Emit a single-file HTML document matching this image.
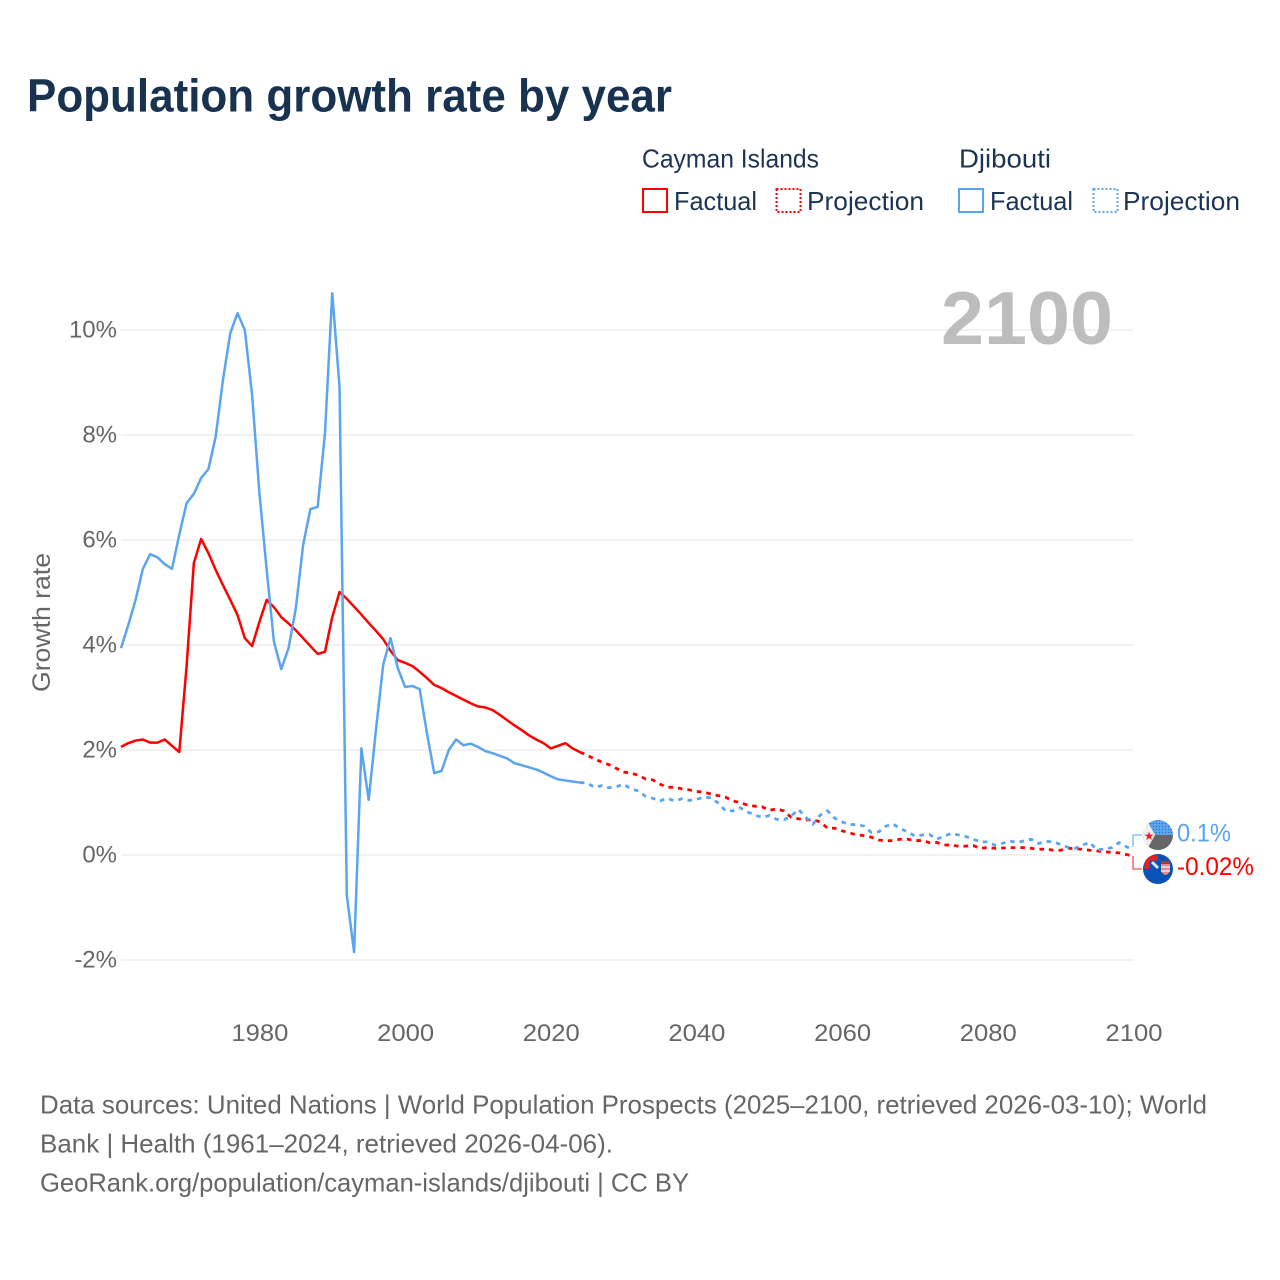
<!DOCTYPE html>
<html lang="en">
<head>
<meta charset="utf-8">
<title>Population growth rate by year</title>
<style>
html,body{margin:0;padding:0;background:#fff;}
svg{display:block;font-family:"Liberation Sans",sans-serif;}
</style>
</head>
<body>
<svg id="chart" xmlns="http://www.w3.org/2000/svg" width="1280" height="1280" viewBox="0 0 1280 1280">
  <rect x="0" y="0" width="1280" height="1280" fill="#ffffff"/>
  <text x="27" y="111.500" font-size="46" font-weight="bold" fill="#18324f" textLength="645" lengthAdjust="spacingAndGlyphs">Population growth rate by year</text>

  <g font-size="26" fill="#1c3454">
    <text x="642" y="167.500" textLength="177" lengthAdjust="spacingAndGlyphs">Cayman Islands</text>
    <text x="959" y="167.500" textLength="92" lengthAdjust="spacingAndGlyphs">Djibouti</text>
    <rect x="643" y="189" width="24" height="23" fill="none" stroke="#ff0000" stroke-width="2"/>
    <text x="674" y="210" textLength="83" lengthAdjust="spacingAndGlyphs">Factual</text>
    <rect x="776.500" y="189" width="24" height="23" fill="none" stroke="#ff0000" stroke-width="2" stroke-dasharray="2 2"/>
    <text x="807" y="210" textLength="117" lengthAdjust="spacingAndGlyphs">Projection</text>
    <rect x="959" y="189" width="24" height="23" fill="none" stroke="#5ba4ef" stroke-width="2"/>
    <text x="990" y="210" textLength="83" lengthAdjust="spacingAndGlyphs">Factual</text>
    <rect x="1093.500" y="189" width="24" height="23" fill="none" stroke="#5ba4ef" stroke-width="2" stroke-dasharray="2 2"/>
    <text x="1123" y="210" textLength="117" lengthAdjust="spacingAndGlyphs">Projection</text>
  </g>

  <text transform="translate(50,622.5) rotate(-90)" text-anchor="middle" font-size="25" fill="#666666" textLength="139" lengthAdjust="spacingAndGlyphs">Growth rate</text>

  <g id="grid"></g>
  <g id="yticks"></g>
  <g id="xticks"></g>

  <text x="941" y="344" font-size="75" font-weight="bold" fill="#bdbdbd" textLength="172" lengthAdjust="spacingAndGlyphs">2100</text>

  <g id="series"></g>

  <path d="M1142 835H1133V847" fill="none" stroke="#5ba4ef" stroke-width="1.300" opacity="0.800"/>
  <path d="M1133 856V869H1142" fill="none" stroke="#ff0000" stroke-width="1.300" opacity="0.700"/>

  <defs>
    <clipPath id="clip-dj"><circle cx="1158" cy="835" r="15"/></clipPath>
    <clipPath id="clip-ky"><circle cx="1158" cy="869" r="15"/></clipPath>
    <pattern id="dots" width="3" height="3" patternUnits="userSpaceOnUse"><rect width="3" height="3" fill="#5ba4ef"/><circle cx="1.500" cy="1.500" r="0.600" fill="#2f6fb0"/></pattern>
    <pattern id="dots-light" width="3" height="3" patternUnits="userSpaceOnUse"><rect width="3" height="3" fill="#f1f1f1"/><circle cx="1.500" cy="1.500" r="0.500" fill="#d5d5d5"/></pattern>
  </defs>
  <g clip-path="url(#clip-dj)">
    <rect x="1143" y="820" width="30" height="15" fill="url(#dots)"/>
    <rect x="1143" y="835" width="30" height="15" fill="#666666"/>
    <path d="M1144 815L1155 835L1144 855Z" fill="url(#dots-light)"/>
    <rect x="1143" y="820" width="3" height="30" fill="#f1f1f1"/>
    <text x="1149" y="840" font-size="12" fill="#ee1c25" text-anchor="middle">★</text>
  </g>
  <g clip-path="url(#clip-ky)">
    <rect x="1143" y="854" width="30" height="30" fill="#0a52b4"/>
    <path d="M1147 869V861Q1147 858 1150 858H1158" fill="none" stroke="#ee1c25" stroke-width="5"/>
    <path d="M1152 862L1158 868" stroke="#dfe8f5" stroke-width="3"/>
    <path d="M1161 862H1170V871Q1165.500 879 1161 871Z" fill="#e98a8a"/>
    <path d="M1161 867H1170M1161 871H1170" stroke="#dfe8f5" stroke-width="1.500"/>
    <rect x="1161" y="861" width="9" height="3" fill="#a83a3a"/>
  </g>

  <text x="1177" y="841.500" font-size="25" fill="#5ba4ef" textLength="54" lengthAdjust="spacingAndGlyphs">0.1%</text>
  <text x="1177" y="875" font-size="25" fill="#ff0000" textLength="77" lengthAdjust="spacingAndGlyphs">-0.02%</text>

  <g font-size="26" fill="#666666">
    <text x="40" y="1113.500" textLength="1167" lengthAdjust="spacingAndGlyphs">Data sources: United Nations | World Population Prospects (2025–2100, retrieved 2026-03-10); World</text>
    <text x="40" y="1152.500" textLength="573" lengthAdjust="spacingAndGlyphs">Bank | Health (1961–2024, retrieved 2026-04-06).</text>
    <text x="40" y="1191.500" textLength="649" lengthAdjust="spacingAndGlyphs">GeoRank.org/population/cayman-islands/djibouti | CC BY</text>
  </g>
</svg>

<script>
const yTickValues = [-2, 0, 2, 4, 6, 8, 10];
const yTickLabels = ["-2%", "0%", "2%", "4%", "6%", "8%", "10%"];
const xTickYears = [1980, 2000, 2020, 2040, 2060, 2080, 2100];
const xTickLabels = ["1980", "2000", "2020", "2040", "2060", "2080", "2100"];

const factualStartYear = 1961;
const projectionStartYear = 2024;

const caymanFactual = [2.06,2.13,2.18,2.2,2.14,2.14,2.2,2.08,1.96,3.59,5.56,6.02,5.75,5.43,5.14,4.86,4.57,4.13,3.98,4.44,4.86,4.72,4.53,4.41,4.28,4.13,3.98,3.83,3.87,4.53,5.01,4.88,4.73,4.58,4.42,4.27,4.11,3.89,3.71,3.66,3.6,3.49,3.37,3.24,3.18,3.1,3.03,2.96,2.89,2.83,2.81,2.76,2.67,2.57,2.47,2.38,2.28,2.2,2.13,2.03,2.08,2.13,2.03,1.96];
const djiboutiFactual = [3.94,4.38,4.86,5.45,5.73,5.67,5.54,5.45,6.1,6.7,6.88,7.18,7.35,7.97,9.05,9.94,10.32,10,8.76,6.9,5.43,4.06,3.54,3.94,4.7,5.9,6.59,6.63,8.03,10.7,8.91,-0.77,-1.85,2.03,1.05,2.38,3.63,4.13,3.56,3.2,3.22,3.16,2.32,1.56,1.6,2,2.2,2.09,2.12,2.06,1.98,1.94,1.89,1.84,1.75,1.71,1.67,1.63,1.57,1.5,1.44,1.42,1.4,1.38];
const caymanProjection = [1.96,1.9,1.83,1.77,1.72,1.65,1.58,1.56,1.52,1.45,1.43,1.35,1.29,1.29,1.26,1.24,1.21,1.2,1.16,1.13,1.1,1.03,1,0.95,0.93,0.92,0.85,0.88,0.84,0.72,0.69,0.67,0.67,0.63,0.51,0.51,0.46,0.42,0.385,0.37,0.34,0.285,0.27,0.275,0.3,0.3,0.275,0.275,0.235,0.24,0.19,0.19,0.165,0.17,0.18,0.125,0.146,0.127,0.133,0.14,0.14,0.14,0.127,0.108,0.114,0.09,0.09,0.13,0.12,0.108,0.09,0.076,0.063,0.05,0.04,0.01,-0.02];
const djiboutiProjection = [1.38,1.37,1.29,1.32,1.28,1.3,1.35,1.26,1.22,1.12,1.08,1.03,1.08,1.03,1.07,1.04,1.06,1.1,1.09,0.99,0.84,0.84,0.9,0.82,0.76,0.72,0.75,0.68,0.67,0.74,0.87,0.72,0.59,0.76,0.84,0.7,0.63,0.58,0.58,0.55,0.43,0.44,0.55,0.59,0.5,0.44,0.36,0.38,0.39,0.3,0.36,0.41,0.38,0.35,0.3,0.25,0.25,0.185,0.22,0.27,0.235,0.27,0.3,0.22,0.26,0.25,0.2,0.146,0.127,0.19,0.24,0.095,0.114,0.14,0.235,0.16,0.1];

const NS = "http://www.w3.org/2000/svg";
function xScale(year) { return 121 + (year - 1961) * (1133.5 - 121) / (2100 - 1961); }
function yScale(value) { return 855 - value * 52.5; }

function svgEl(tag, parent, attrs) {
  const el = document.createElementNS(NS, tag);
  Object.keys(attrs).forEach(function (k) { el.setAttribute(k, attrs[k]); });
  parent.appendChild(el);
  return el;
}

const gridGroup = document.getElementById("grid");
const yTickGroup = document.getElementById("yticks");
const xTickGroup = document.getElementById("xticks");
const seriesGroup = document.getElementById("series");

yTickValues.forEach(function (v, i) {
  const line = svgEl("line", gridGroup, { x1: 121, x2: 1133, y1: yScale(v), y2: yScale(v), stroke: "#eeeeee", "stroke-width": 1.5 });
  
  
  const t = svgEl("text", yTickGroup, { x: 117, y: yScale(v) + 7.5, "text-anchor": "end", "font-size": 24, fill: "#666666" });
  t.textContent = yTickLabels[i];
  
  
});

xTickYears.forEach(function (yr, i) {
  const t = svgEl("text", xTickGroup, { x: xScale(yr) + 0.5, y: 1041, "text-anchor": "middle", "font-size": 24, fill: "#666666", textLength: 57, lengthAdjust: "spacingAndGlyphs" });
  t.textContent = xTickLabels[i];
  
  
});

function linePoints(values, startYear) {
  return values.map(function (v, i) {
    return xScale(startYear + i).toFixed(2) + "," + yScale(v).toFixed(2);
  }).join(" ");
}

const lineCaymanFactual = svgEl("polyline", seriesGroup, { points: linePoints(caymanFactual, factualStartYear), fill: "none", stroke: "#ff0000", "stroke-width": 2.5, "stroke-linejoin": "round" });



const lineCaymanProjection = svgEl("polyline", seriesGroup, { points: linePoints(caymanProjection, projectionStartYear), fill: "none", stroke: "#ff0000", "stroke-width": 2.8, "stroke-dasharray": "4.6 5" });



const lineDjiboutiFactual = svgEl("polyline", seriesGroup, { points: linePoints(djiboutiFactual, factualStartYear), fill: "none", stroke: "#5ba4ef", "stroke-width": 2.5, "stroke-linejoin": "round" });



const lineDjiboutiProjection = svgEl("polyline", seriesGroup, { points: linePoints(djiboutiProjection, projectionStartYear), fill: "none", stroke: "#5ba4ef", "stroke-width": 2.8, "stroke-dasharray": "4.6 5" });


</script>
</body>
</html>
